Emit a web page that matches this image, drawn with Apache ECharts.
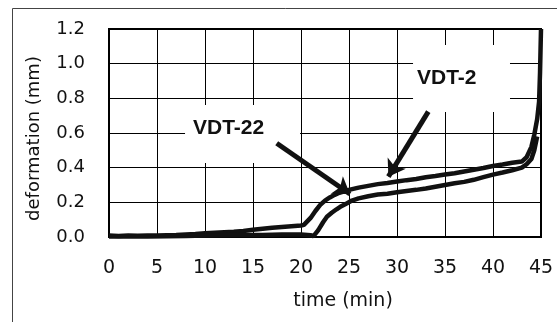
<!DOCTYPE html>
<html>
<head>
<meta charset="utf-8">
<script src="https://cdn.jsdelivr.net/npm/echarts@6/dist/echarts.min.js"></script>
<style>html,body{margin:0;padding:0;background:#fff;}#c{width:557px;height:322px;}</style>
</head>
<body>
<div id="c"></div>
<script>
// Data
const timeA = [0,1,2,3,4,5,6,7,8,9,10,11,12,13,14,15,16,17,18,19,20,20.3,21,21.5,22,22.5,23,23.5,24,24.5,25,26,27,28,29,30,31,32,33,34,35,36,37,38,39,40,41,42,43,43.5,44,44.3,44.6,44.8,44.9,45];
const vdt22 = [0.008,0.006,0.008,0.007,0.009,0.008,0.010,0.012,0.015,0.018,0.022,0.025,0.028,0.030,0.035,0.042,0.048,0.054,0.058,0.062,0.066,0.07,0.11,0.15,0.185,0.21,0.228,0.243,0.255,0.263,0.272,0.285,0.295,0.305,0.312,0.32,0.328,0.335,0.345,0.352,0.36,0.368,0.378,0.388,0.398,0.41,0.418,0.428,0.435,0.46,0.52,0.59,0.68,0.78,0.95,1.2];
const timeB = [0,2,4,6,8,10,12,14,16,18,20,21,21.3,21.8,22.3,22.7,23.2,23.7,24.2,24.8,25.3,26,27,28,29,30,31,32,33,34,35,36,37,38,39,40,41,42,43,43.5,44,44.3,44.6];
const vdt2 = [0.003,0.004,0.003,0.005,0.006,0.008,0.010,0.012,0.012,0.015,0.014,0.01,0.005,0.04,0.085,0.117,0.14,0.16,0.178,0.195,0.21,0.223,0.235,0.245,0.25,0.258,0.265,0.272,0.28,0.29,0.30,0.31,0.318,0.33,0.345,0.36,0.372,0.385,0.40,0.42,0.45,0.5,0.58];
const xTicks = [0,5,10,15,20,25,30,35,40,45];
const yTicks = [0.0,0.2,0.4,0.6,0.8,1.0,1.2];
// annotation anchors (data units)
const label22 = {name:'VDT-22', box:[[7.92,0.762],[19.9,0.427]], arrow:[[17.47,0.541],[25.1,0.248]]};
const label2 = {name:'VDT-2', box:[[31.67,1.108],[41.77,0.721]], arrow:[[33.26,0.723],[29.1,0.348]]};

const chart = echarts.init(document.getElementById('c'), null, {renderer:'canvas'});
const tickFont = {fontFamily:'DejaVu Sans', color:'#111'};
function zip(t, v){ return t.map((x,i)=>[x, v[i]]); }
chart.setOption({
  animation:false,
  graphic:[{type:'rect', shape:{x:12.5, y:8.5, width:600, height:400}, style:{fill:'none', stroke:'#444', lineWidth:1}, silent:true}],
  grid:{left:109, right:16, top:29, bottom:85, show:true, borderColor:'#000', borderWidth:2, backgroundColor:'transparent'},
  xAxis:{type:'value', min:0, max:45, interval:5,
    axisLine:{show:false}, axisTick:{show:false},
    splitLine:{show:true, lineStyle:{color:'#000', width:1}},
    axisLabel:{margin:22, fontSize:19, ...tickFont, formatter:v=>xTicks.includes(v)?String(v):''},
    name:'time (min)', nameLocation:'middle', nameGap:55,
    nameTextStyle:{fontSize:19, ...tickFont, padding:[0,0,0,36]}},
  yAxis:{type:'value', min:0, max:1.2, interval:0.2,
    axisLine:{show:false}, axisTick:{show:false},
    splitLine:{show:true, lineStyle:{color:'#000', width:1}},
    axisLabel:{margin:24, fontSize:18, ...tickFont, formatter:v=>yTicks.find(t=>Math.abs(t-v)<1e-6)!==undefined?v.toFixed(1):''},
    name:'deformation (mm)', nameLocation:'middle', nameGap:66,
    nameTextStyle:{fontSize:18, ...tickFont, padding:[0,11,0,0]}},
  series:[
    {type:'line', name:'VDT-22', data:zip(timeA, vdt22), showSymbol:false, symbol:'none',
     lineStyle:{color:'#111', width:4.5}, z:3,
     markArea:{silent:true, itemStyle:{color:'#fff'},
       label:{show:true, position:[8,23], align:'left', verticalAlign:'middle', fontFamily:'Liberation Sans', fontWeight:'bold', fontSize:21, color:'#111'},
       data:[
         [{name:label22.name, coord:label22.box[0]},{coord:label22.box[1]}],
       ]},
    },
    {type:'line', name:'VDT-2', data:zip(timeB, vdt2), showSymbol:false, symbol:'none',
     lineStyle:{color:'#111', width:4.5}, z:3,
     markArea:{silent:true, itemStyle:{color:'#fff'},
       label:{show:true, position:[4,33], align:'left', verticalAlign:'middle', fontFamily:'Liberation Sans', fontWeight:'bold', fontSize:21, color:'#111'},
       data:[
         [{name:label2.name, coord:label2.box[0]},{coord:label2.box[1]}],
       ]},
     markLine:{silent:true, symbol:['none','arrow'], symbolSize:16,
       label:{show:false}, lineStyle:{color:'#111', width:5, type:'solid'},
       itemStyle:{color:'#111'},
       data:[
         [{coord:label22.arrow[0]},{coord:label22.arrow[1]}],
         [{coord:label2.arrow[0]},{coord:label2.arrow[1]}]
       ]}
    }
  ]
});
</script>
</body>
</html>
